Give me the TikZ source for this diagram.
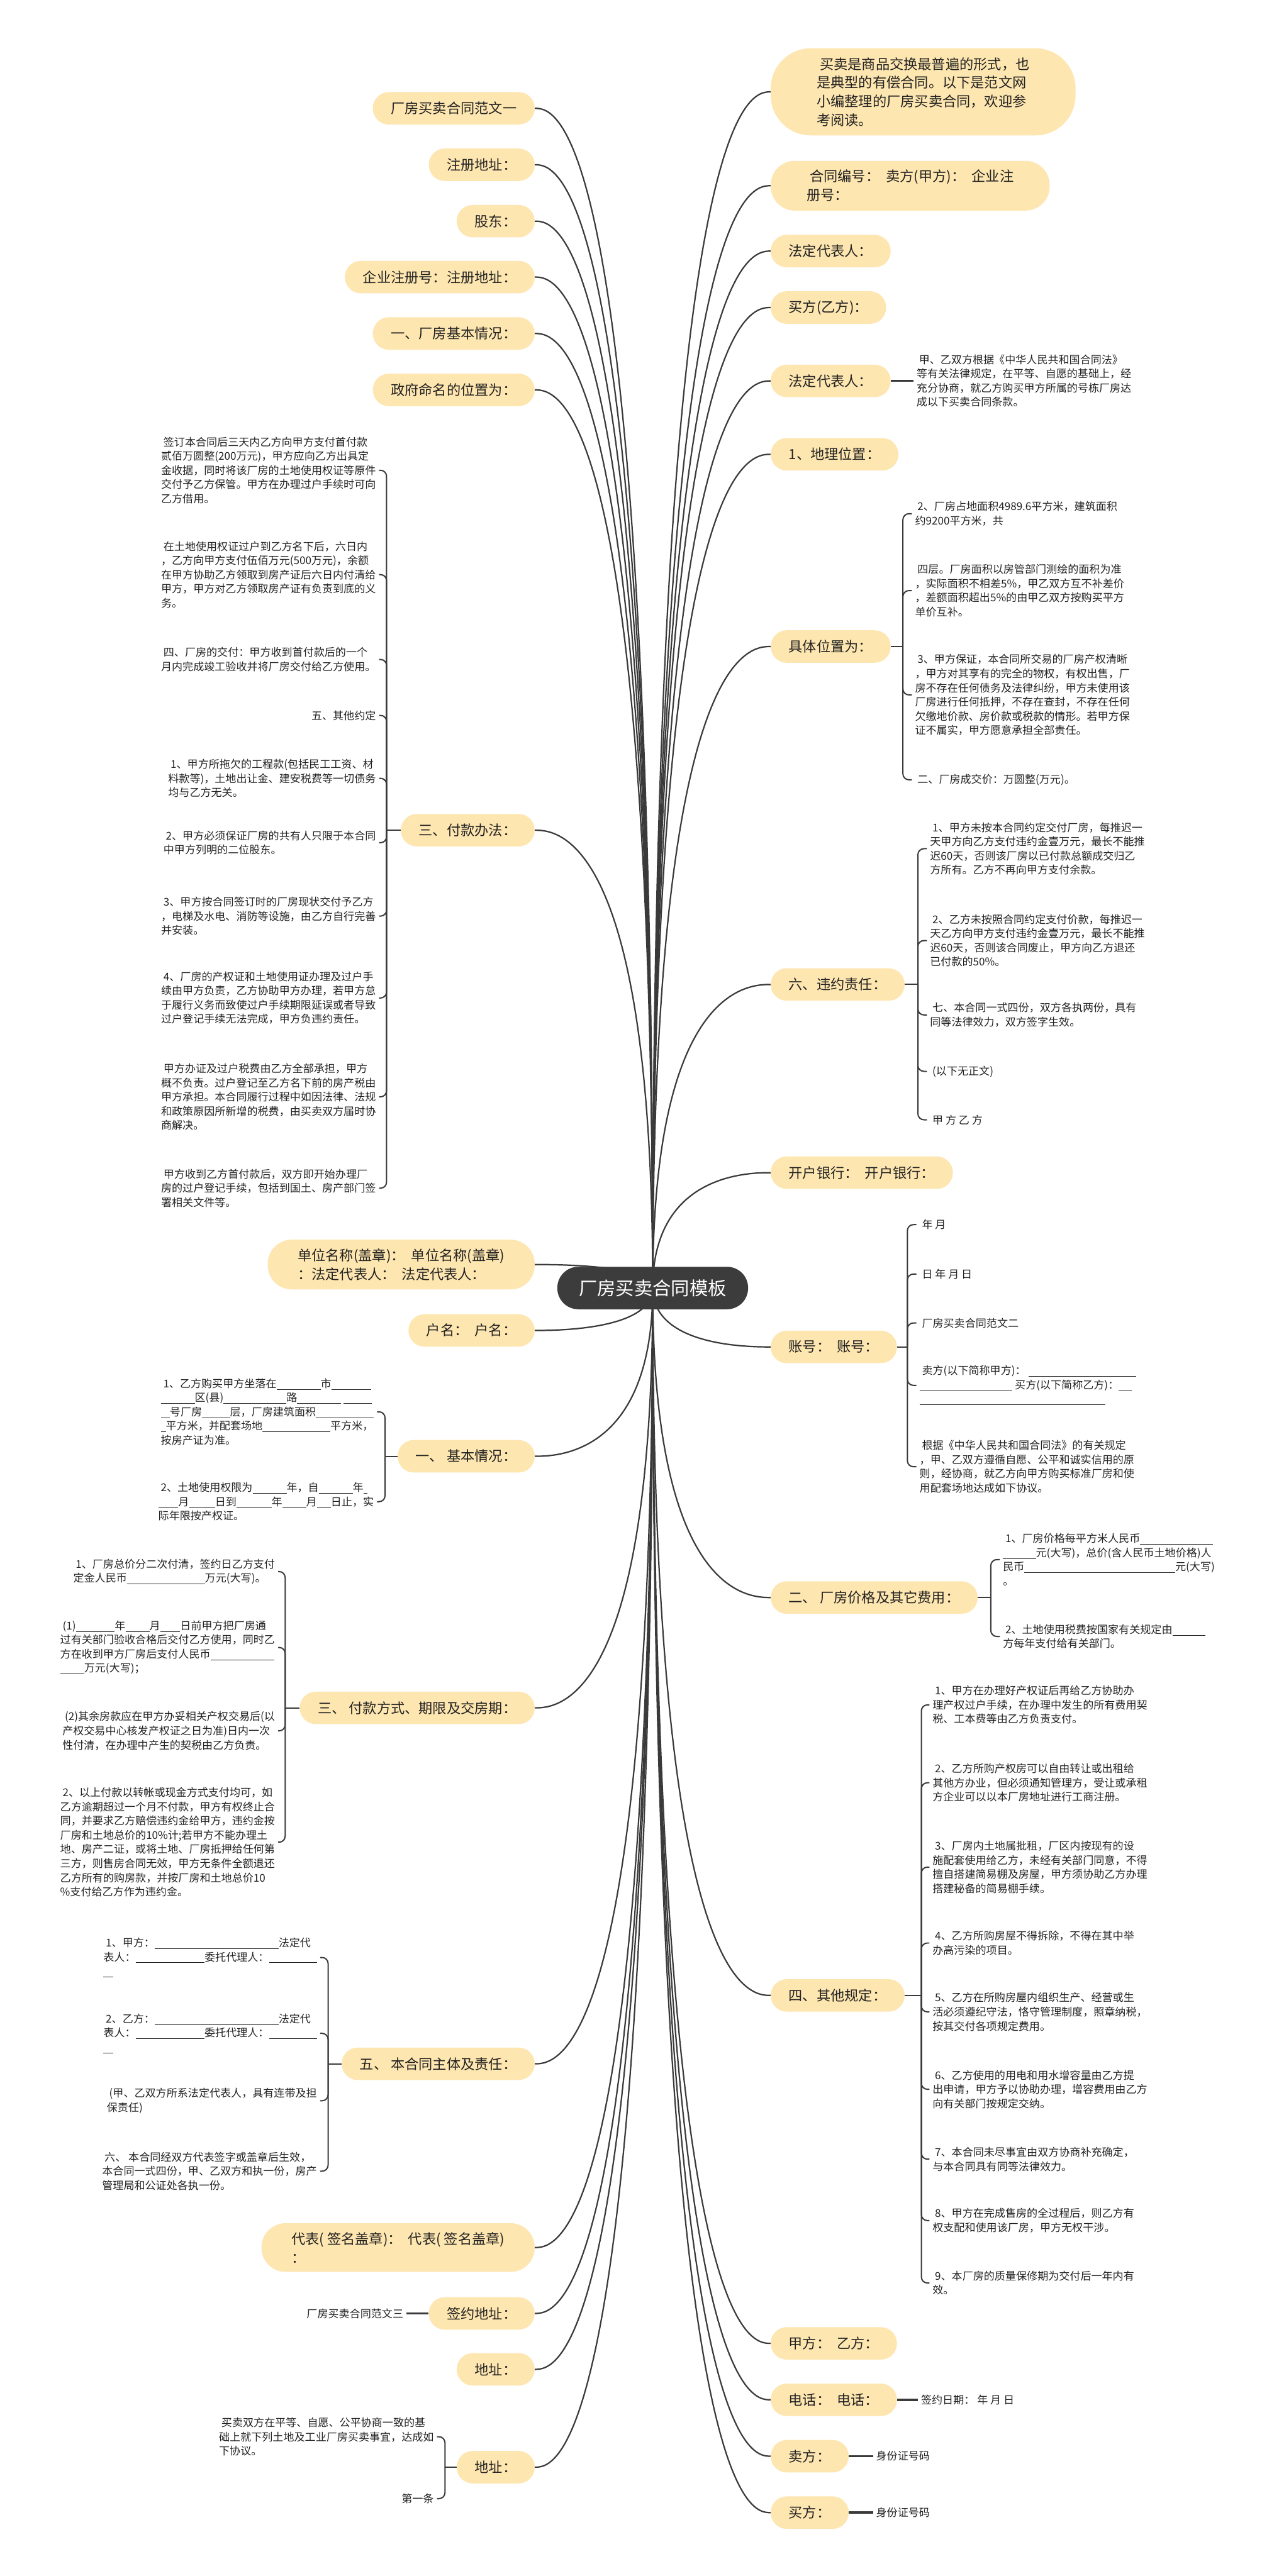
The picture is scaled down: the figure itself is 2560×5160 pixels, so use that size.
\documentclass[tikz,border=0pt]{standalone}
\usepackage{fontspec}
\setmainfont{Noto Sans CJK SC}

\definecolor{topicfill}{HTML}{FEE6B0}
\definecolor{rootfill}{HTML}{3C3C3C}
\definecolor{linegray}{HTML}{3A3A3A}
\definecolor{textdark}{HTML}{222222}
\newcommand\fillblank[1]{\rule[-2pt]{#1}{0.55pt}}
\newcommand\kgap{\hspace{0.45em}}
\pgfdeclarelayer{bg}
\pgfsetlayers{bg,main}

\begin{document}
\begin{tikzpicture}[
    x=0.5pt, y=-0.5pt,
    topic/.style={rectangle, rounded corners=16pt, fill=topicfill, text=textdark, font=\fontsize{14pt}{18.7pt}\selectfont, inner xsep=18pt, inner ysep=9pt, minimum height=32.5pt, align=left},
    tall/.style={inner xsep=30pt, rounded corners=24pt},
    rootnode/.style={rectangle, rounded corners=21pt, fill=rootfill, text=white, font=\fontsize{18.5pt}{22pt}\selectfont, inner xsep=21.5pt, minimum height=42.5pt},
    leaf/.style={font=\fontsize{10.75pt}{14.2pt}\selectfont, text=textdark, inner sep=3pt, align=left},
    link/.style={draw=linegray, line width=1.4pt},
    brace/.style={draw=linegray, line width=1.25pt, rounded corners=6pt},
    stub/.style={draw=linegray, line width=2.2pt}
]
\useasboundingbox (0,0) rectangle (2560,5160);

\node (root) [rootnode] at (1307,2580) {厂房买卖合同模板};

% right branches
\node (r1) [topic, inner xsep=46pt, rounded corners=40pt, anchor=west] at (1543,184) {\ 买卖是商品交换最普遍的形式，也\\是典型的有偿合同。以下是范文网\\小编整理的厂房买卖合同，欢迎参\\考阅读。};
\node (r2) [topic, tall, inner xsep=36pt, anchor=west] at (1543,372) {\ 合同编号：\kgap 卖方(甲方)：\kgap 企业注\\册号：};
\node (r3) [topic, anchor=west] at (1543,503) {法定代表人：};
\node (r4) [topic, anchor=west] at (1543,616) {买方(乙方)：};
\node (r5) [topic, anchor=west] at (1543,763) {法定代表人：};
\node (r6) [topic, anchor=west] at (1543,910) {1、地理位置：};
\node (r7) [topic, anchor=west] at (1543,1295) {具体位置为：};
\node (r8) [topic, anchor=west] at (1543,1972) {六、违约责任：};
\node (r9) [topic, anchor=west] at (1543,2349) {开户银行：\kgap 开户银行：};
\node (r10) [topic, anchor=west] at (1543,2698) {账号：\kgap 账号：};
\node (r11) [topic, anchor=west] at (1543,3200) {二、\ 厂房价格及其它费用：};
\node (r12) [topic, anchor=west] at (1543,3997) {四、其他规定：};
\node (r13) [topic, anchor=west] at (1543,4694) {甲方：\kgap 乙方：};
\node (r14) [topic, anchor=west] at (1543,4807) {电话：\kgap 电话：};
\node (r15) [topic, anchor=west] at (1543,4920) {卖方：};
\node (r16) [topic, anchor=west] at (1543,5033) {买方：};

% left branches
\node (l1) [topic, anchor=east] at (1071,217) {厂房买卖合同范文一};
\node (l2) [topic, anchor=east] at (1071,330) {注册地址：};
\node (l3) [topic, anchor=east] at (1071,443) {股东：};
\node (l4) [topic, anchor=east] at (1071,555) {企业注册号：注册地址：};
\node (l5) [topic, anchor=east] at (1071,668) {一、厂房基本情况：};
\node (l6) [topic, anchor=east] at (1071,781) {政府命名的位置为：};
\node (l7) [topic, anchor=east] at (1071,1663) {三、付款办法：};
\node (l8) [topic, tall, anchor=east] at (1071,2533) {单位名称(盖章)：\kgap 单位名称(盖章)\\：法定代表人：\kgap 法定代表人：};
\node (l9) [topic, anchor=east] at (1071,2665) {户名：\kgap 户名：};
\node (l10) [topic, anchor=east] at (1071,2917) {一、\ 基本情况：};
\node (l11) [topic, anchor=east] at (1071,3421) {三、\ 付款方式、期限及交房期：};
\node (l12) [topic, anchor=east] at (1071,4134) {五、\ 本合同主体及责任：};
\node (l13) [topic, tall, anchor=east] at (1071,4502) {代表( 签名盖章)：\kgap 代表( 签名盖章)\\：};
\node (l14) [topic, anchor=east] at (1071,4634) {签约地址：};
\node (l15) [topic, anchor=east] at (1071,4746) {地址：};
\node (l16) [topic, anchor=east] at (1071,4942) {地址：};

% right leaves
\node (r5a) [leaf, anchor=west] at (1829,763) {\ 甲、乙双方根据《中华人民共和国合同法》\\等有关法律规定，在平等、自愿的基础上，经\\充分协商，就乙方购买甲方所属的号栋厂房达\\成以下买卖合同条款。};

\node (r7a) [leaf, anchor=west] at (1826,1029) {\ 2、厂房占地面积4989.6平方米，建筑面积\\约9200平方米，共};
\node (r7b) [leaf, anchor=west] at (1826,1183) {\ 四层。厂房面积以房管部门测绘的面积为准\\，实际面积不相差5\%，甲乙双方互不补差价\\，差额面积超出5\%的由甲乙双方按购买平方\\单价互补。};
\node (r7c) [leaf, anchor=west] at (1826,1392) {\ 3、甲方保证，本合同所交易的厂房产权清晰\\，甲方对其享有的完全的物权，有权出售，厂\\房不存在任何债务及法律纠纷，甲方未使用该\\厂房进行任何抵押，不存在查封，不存在任何\\欠缴地价款、房价款或税款的情形。若甲方保\\证不属实，甲方愿意承担全部责任。};
\node (r7d) [leaf, anchor=west] at (1826,1562) {\ 二、厂房成交价：万圆整(万元)。};

\node (r8a) [leaf, anchor=west] at (1856,1700) {\ 1、甲方未按本合同约定交付厂房，每推迟一\\天甲方向乙方支付违约金壹万元，最长不能推\\迟60天，否则该厂房以已付款总额成交归乙\\方所有。乙方不再向甲方支付余款。};
\node (r8b) [leaf, anchor=west] at (1856,1884) {\ 2、乙方未按照合同约定支付价款，每推迟一\\天乙方向甲方支付违约金壹万元，最长不能推\\迟60天，否则该合同废止，甲方向乙方退还\\已付款的50\%。};
\node (r8c) [leaf, anchor=west] at (1856,2033) {\ 七、本合同一式四份，双方各执两份，具有\\同等法律效力，双方签字生效。};
\node (r8d) [leaf, anchor=west] at (1856,2146) {\ (以下无正文)};
\node (r8e) [leaf, anchor=west] at (1856,2243) {\ 甲 方 乙 方};

\node (r10a) [leaf, anchor=west] at (1835,2453) {\ 年 月};
\node (r10b) [leaf, anchor=west] at (1835,2552) {\ 日 年 月 日};
\node (r10c) [leaf, anchor=west] at (1835,2650) {\ 厂房买卖合同范文二};
\node (r10d) [leaf, anchor=west] at (1835,2775) {\ 卖方(以下简称甲方)：\ \fillblank{108pt}\\\fillblank{93pt}\ 买方(以下简称乙方)：\fillblank{13pt}\\\fillblank{186pt}};
\node (r10e) [leaf, anchor=west] at (1835,2938) {\ 根据《中华人民共和国合同法》的有关规定\\，甲、乙双方遵循自愿、公平和诚实信用的原\\则，经协商，就乙方向甲方购买标准厂房和使\\用配套场地达成如下协议。};

\node (r11a) [leaf, anchor=west] at (2002,3124) {\ 1、厂房价格每平方米人民币\fillblank{73pt}\\\fillblank{33pt}元(大写)，总价(含人民币土地价格)人\\民币\fillblank{151pt}元(大写)\\。};
\node (r11b) [leaf, anchor=west] at (2002,3278) {\ 2、土地使用税费按国家有关规定由\fillblank{33pt}\\方每年支付给有关部门。};

\node (r12a) [leaf, anchor=west] at (1861,3415) {\ 1、甲方在办理好产权证后再给乙方协助办\\理产权过户手续，在办理中发生的所有费用契\\税、工本费等由乙方负责支付。};
\node (r12b) [leaf, anchor=west] at (1861,3571) {\ 2、乙方所购产权房可以自由转让或出租给\\其他方办业，但必须通知管理方，受让或承租\\方企业可以以本厂房地址进行工商注册。};
\node (r12c) [leaf, anchor=west] at (1861,3740) {\ 3、厂房内土地属批租，厂区内按现有的设\\施配套使用给乙方，未经有关部门同意，不得\\擅自搭建简易棚及房屋，甲方须协助乙方办理\\搭建秘备的简易棚手续。};
\node (r12d) [leaf, anchor=west] at (1861,3892) {\ 4、乙方所购房屋不得拆除，不得在其中举\\办高污染的项目。};
\node (r12e) [leaf, anchor=west] at (1861,4030) {\ 5、乙方在所购房屋内组织生产、经营或生\\活必须遵纪守法，恪守管理制度，照章纳税，\\按其交付各项规定费用。};
\node (r12f) [leaf, anchor=west] at (1861,4185) {\ 6、乙方使用的用电和用水增容量由乙方提\\出申请，甲方予以协助办理，增容费用由乙方\\向有关部门按规定交纳。};
\node (r12g) [leaf, anchor=west] at (1861,4325) {\ 7、本合同未尽事宜由双方协商补充确定，\\与本合同具有同等法律效力。};
\node (r12h) [leaf, anchor=west] at (1861,4448) {\ 8、甲方在完成售房的全过程后，则乙方有\\权支配和使用该厂房，甲方无权干涉。};
\node (r12i) [leaf, anchor=west] at (1861,4573) {\ 9、本厂房的质量保修期为交付后一年内有\\效。};

\node (r14a) [leaf, anchor=west] at (1838,4807) {签约日期：\ 年 月 日};
\node (r15a) [leaf, anchor=west] at (1748,4920) {身份证号码};
\node (r16a) [leaf, anchor=west] at (1748,5033) {身份证号码};

% left leaves
\node (l7a) [leaf, anchor=east] at (759,942) {\ 签订本合同后三天内乙方向甲方支付首付款\\贰佰万圆整(200万元)，甲方应向乙方出具定\\金收据，同时将该厂房的土地使用权证等原件\\交付予乙方保管。甲方在办理过户手续时可向\\乙方借用。};
\node (l7b) [leaf, anchor=east] at (759,1151) {\ 在土地使用权证过户到乙方名下后，六日内\\，乙方向甲方支付伍佰万元(500万元)，余额\\在甲方协助乙方领取到房产证后六日内付清给\\甲方，甲方对乙方领取房产证有负责到底的义\\务。};
\node (l7c) [leaf, anchor=east] at (759,1321) {\ 四、厂房的交付：甲方收到首付款后的一个\\月内完成竣工验收并将厂房交付给乙方使用。};
\node (l7d) [leaf, anchor=east] at (759,1433) {五、其他约定};
\node (l7e) [leaf, anchor=east] at (759,1559) {\ 1、甲方所拖欠的工程款(包括民工工资、材\\料款等)，土地出让金、建安税费等一切债务\\均与乙方无关。};
\node (l7f) [leaf, anchor=east] at (759,1688) {\ 2、甲方必须保证厂房的共有人只限于本合同\\中甲方列明的二位股东。};
\node (l7g) [leaf, anchor=east] at (759,1835) {\ 3、甲方按合同签订时的厂房现状交付予乙方\\，电梯及水电、消防等设施，由乙方自行完善\\并安装。};
\node (l7h) [leaf, anchor=east] at (759,1999) {\ 4、厂房的产权证和土地使用证办理及过户手\\续由甲方负责，乙方协助甲方办理，若甲方怠\\于履行义务而致使过户手续期限延误或者导致\\过户登记手续无法完成，甲方负违约责任。};
\node (l7i) [leaf, anchor=east] at (759,2197) {\ 甲方办证及过户税费由乙方全部承担，甲方\\概不负责。过户登记至乙方名下前的房产税由\\甲方承担。本合同履行过程中如因法律、法规\\和政策原因所新增的税费，由买卖双方届时协\\商解决。};
\node (l7j) [leaf, anchor=east] at (759,2380) {\ 甲方收到乙方首付款后，双方即开始办理厂\\房的过户登记手续，包括到国土、房产部门签\\署相关文件等。};

\node (l10a) [leaf, anchor=east] at (755,2828) {\ 1、乙方购买甲方坐落在\fillblank{44pt}市\fillblank{40pt}\\\fillblank{34pt}区(县)\fillblank{63pt}路\fillblank{44pt}\ \fillblank{28pt}\\\fillblank{9pt}号厂房\fillblank{28pt}层，厂房建筑面积\fillblank{58pt}\\\fillblank{5pt}平方米，并配套场地\fillblank{68pt}平方米，\\按房产证为准。};
\node (l10b) [leaf, anchor=east] at (755,3008) {\ 2、土地使用权限为\fillblank{34pt}年，自\fillblank{34pt}年\fillblank{4pt}\\\fillblank{20pt}月\fillblank{26pt}日到\fillblank{35pt}年\fillblank{24pt}月\fillblank{14pt}日止，实\\际年限按产权证。};

\node (l11a) [leaf, anchor=east] at (557,3148) {\ 1、厂房总价分二次付清，签约日乙方支付\\定金人民币\fillblank{78pt}万元(大写)。};
\node (l11b) [leaf, anchor=east] at (557,3300) {\ (1)\fillblank{39pt}年\fillblank{24pt}月\fillblank{20pt}日前甲方把厂房通\\过有关部门验收合格后交付乙方使用，同时乙\\方在收到甲方厂房后支付人民币\fillblank{64pt}\\\fillblank{24pt}万元(大写)；};
\node (l11c) [leaf, anchor=east] at (557,3467) {\ (2)其余房款应在甲方办妥相关产权交易后(以\\产权交易中心核发产权证之日为准)日内一次\\性付清，在办理中产生的契税由乙方负责。};
\node (l11d) [leaf, anchor=east] at (557,3690) {\ 2、以上付款以转帐或现金方式支付均可，如\\乙方逾期超过一个月不付款，甲方有权终止合\\同，并要求乙方赔偿违约金给甲方，违约金按\\厂房和土地总价的10\%计;若甲方不能办理土\\地、房产二证，或将土地、厂房抵押给任何第\\三方，则售房合同无效，甲方无条件全额退还\\乙方所有的购房款，并按厂房和土地总价10\\\%支付给乙方作为违约金。};

\node (l12a) [leaf, anchor=east] at (641,3921) {\ 1、甲方：\fillblank{124pt}法定代\\表人：\fillblank{69pt}委托代理人：\fillblank{48pt}\\\fillblank{10pt}};
\node (l12b) [leaf, anchor=east] at (641,4073) {\ 2、乙方：\fillblank{124pt}法定代\\表人：\fillblank{69pt}委托代理人：\fillblank{48pt}\\\fillblank{10pt}};
\node (l12c) [leaf, anchor=east] at (641,4208) {\ (甲、乙双方所系法定代表人，具有连带及担\\保责任)};
\node (l12d) [leaf, anchor=east] at (641,4349) {\ 六、 本合同经双方代表签字或盖章后生效，\\本合同一式四份，甲、乙双方和执一份，房产\\管理局和公证处各执一份。};

\node (l14a) [leaf, anchor=east] at (814,4634) {厂房买卖合同范文三};

\node (l16a) [leaf, anchor=east] at (875,4881) {\ 买卖双方在平等、自愿、公平协商一致的基\\础上就下列土地及工业厂房买卖事宜，达成如\\下协议。};
\node (l16b) [leaf, anchor=east] at (875,5005) {第一条};

% brace junctions
\coordinate (r7j) at (1808,1295);
\coordinate (r8j) at (1838,1972);
\coordinate (r10j) at (1817,2698);
\coordinate (r11j) at (1984,3200);
\coordinate (r12j) at (1845,3997);
\coordinate (l7j0) at (774,1663);
\coordinate (l10j) at (771,2917);
\coordinate (l11j) at (571,3421);
\coordinate (l12j) at (657,4134);
\coordinate (l16j) at (891,4942);

% branch lines from the centre
\begin{pgfonlayer}{bg}
\fill[white] (0,0) rectangle (2560,5160);
\foreach \i in {1,...,16}
    \draw[link] (root.center) .. controls (root.center |- r\i.west) and ([xshift=-20pt]r\i.west) .. (r\i.west);
\foreach \i in {1,...,16}
    \draw[link] (root.center) .. controls (root.center |- l\i.east) and ([xshift=20pt]l\i.east) .. (l\i.east);
\end{pgfonlayer}

% single children
\draw[stub] (r5.east) -- (r5a.west);
\draw[stub] (r14.east) -- (r14a.west);
\draw[stub] (r15.east) -- (r15a.west);
\draw[stub] (r16.east) -- (r16a.west);
\draw[stub] (l14.west) -- (l14a.east);

% braces, right side
\draw[brace] (r7.east) -- (r7j);
\foreach \c in {r7a,r7b,r7c,r7d} \draw[brace] (r7j) |- (\c.west);
\draw[brace] (r8.east) -- (r8j);
\foreach \c in {r8a,r8b,r8c,r8d,r8e} \draw[brace] (r8j) |- (\c.west);
\draw[brace] (r10.east) -- (r10j);
\foreach \c in {r10a,r10b,r10c,r10d,r10e} \draw[brace] (r10j) |- (\c.west);
\draw[brace] (r11.east) -- (r11j);
\foreach \c in {r11a,r11b} \draw[brace] (r11j) |- (\c.west);
\draw[brace] (r12.east) -- (r12j);
\foreach \c in {r12a,r12b,r12c,r12d,r12e,r12f,r12g,r12h,r12i} \draw[brace] (r12j) |- (\c.west);

% braces, left side
\draw[brace] (l7.west) -- (l7j0);
\foreach \c in {l7a,l7b,l7c,l7d,l7e,l7f,l7g,l7h,l7i,l7j} \draw[brace] (l7j0) |- (\c.east);
\draw[brace] (l10.west) -- (l10j);
\foreach \c in {l10a,l10b} \draw[brace] (l10j) |- (\c.east);
\draw[brace] (l11.west) -- (l11j);
\foreach \c in {l11a,l11b,l11c,l11d} \draw[brace] (l11j) |- (\c.east);
\draw[brace] (l12.west) -- (l12j);
\foreach \c in {l12a,l12b,l12c,l12d} \draw[brace] (l12j) |- (\c.east);
\draw[brace] (l16.west) -- (l16j);
\foreach \c in {l16a,l16b} \draw[brace] (l16j) |- (\c.east);

\end{tikzpicture}
\end{document}
